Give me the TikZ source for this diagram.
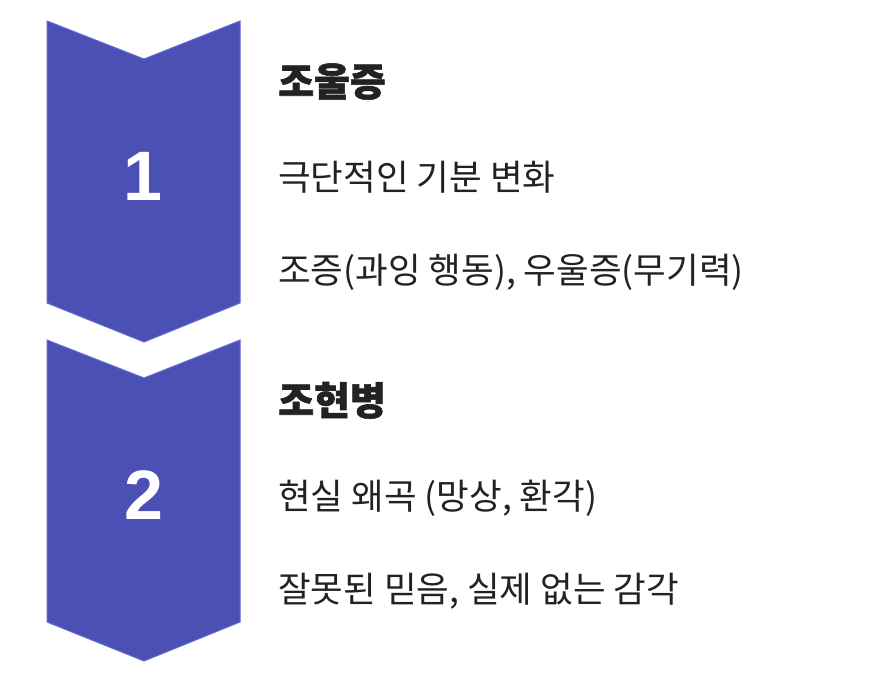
\documentclass[tikz,border=0pt]{standalone}
\usepackage{fontspec}
\setmainfont{Noto Sans CJK KR}
\newfontfamily\numfont{Liberation Sans}
\newfontfamily\titlefont[FakeBold=1.5]{Noto Sans CJK KR}
\usetikzlibrary{positioning}
\definecolor{chevblue}{RGB}{74,80,180}
\definecolor{chevedge}{RGB}{98,106,212}
\definecolor{txtgray}{RGB}{34,34,34}
\tikzset{chev style/.style={fill=chevblue,draw=chevedge,line width=1pt,line join=miter}}

\begin{document}
\begin{tikzpicture}[x=1pt,y=-1pt,
	num/.style={text=white,font=\numfont\bfseries\fontsize{70}{70}\selectfont,inner sep=0},
	title/.style={text=txtgray,font=\titlefont\bfseries\fontsize{39}{42}\selectfont,inner sep=0},
	item/.style={text=txtgray,font=\fontsize{35.5}{40}\selectfont,inner sep=0}]
	\useasboundingbox (0,0) rectangle (888,682);

	% chevrons
	\path[chev style] (47,21) -- (144,59) -- (240,21) -- (240,303) -- (144,342) -- (47,303) -- cycle;
	\path[chev style] (47,340) -- (144,378) -- (240,340) -- (240,622) -- (144,661) -- (47,622) -- cycle;

	\node[num] (n1) at (143,176) {1};
	\node[num] (n2) at (144,495) {2};

	% step 1
	\node[title, anchor=base west] (t1) at (278,96) {조울증};
	\node[item, below=94pt of t1.base west, anchor=base west] (a1) {극단적인 기분 변화};
	\node[item, below=93pt of a1.base west, anchor=base west] (b1) {조증(과잉 행동), 우울증(무기력)};

	% step 2
	\node[title, below=132pt of b1.base west, anchor=base west] (t2) {조현병};
	\node[item, below=94pt of t2.base west, anchor=base west] (a2) {현실 왜곡 (망상, 환각)};
	\node[item, below=93pt of a2.base west, anchor=base west] (b2) {잘못된 믿음, 실제 없는 감각};
\end{tikzpicture}
\end{document}
